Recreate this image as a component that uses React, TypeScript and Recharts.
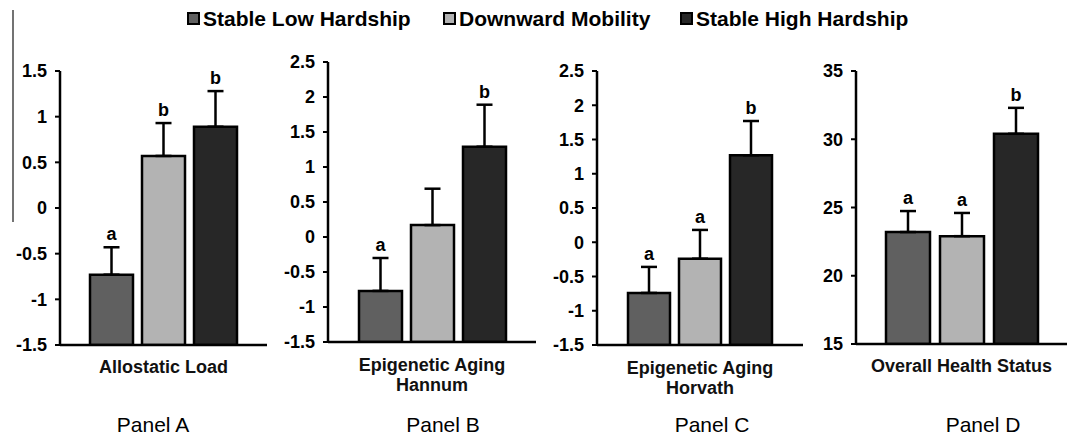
import { BarChart, Bar, XAxis, YAxis, ErrorBar, LabelList } from "recharts";

const groups = ["Stable Low Hardship", "Downward Mobility", "Stable High Hardship"];
const groupColors = ["#606060", "#b3b3b3", "#272727"];

const panelTitles = ["Panel A", "Panel B", "Panel C", "Panel D"];
const outcomes = [
  ["Allostatic Load"],
  ["Epigenetic Aging", "Hannum"],
  ["Epigenetic Aging", "Horvath"],
  ["Overall Health Status"],
];

// means and upper standard errors per group
const meansA = [-0.73, 0.57, 0.89];
const errsA = [0.3, 0.36, 0.39];
const meansB = [-0.77, 0.17, 1.29];
const errsB = [0.47, 0.52, 0.6];
const meansC = [-0.74, -0.24, 1.27];
const errsC = [0.38, 0.42, 0.5];
const meansD = [23.2, 22.9, 30.4];
const errsD = [1.54, 1.7, 1.9];

const lettersA = ["a", "b", "b"];
const lettersB = ["a", "", "b"];
const lettersC = ["a", "a", "b"];
const lettersD = ["a", "a", "b"];

const ticksA = [-1.5, -1, -0.5, 0, 0.5, 1, 1.5];
const ticksB = [-1.5, -1, -0.5, 0, 0.5, 1, 1.5, 2, 2.5];
const ticksC = [-1.5, -1, -0.5, 0, 0.5, 1, 1.5, 2, 2.5];
const ticksD = [15, 20, 25, 30, 35];

const FONT = "'Liberation Sans', Arial, sans-serif";

interface PanelProps {
  lines: string[];
  means: number[];
  errs: number[];
  letters: string[];
  ticks: number[];
  axisX: number;
  plotRight: number;
  topY: number;
  bottomY: number;
  barSize: number;
  barGap: number;
}

const Y_W = 60;
const X_H = 60;
const H = 438;

function Panel(p: PanelProps) {
  const yMin = p.ticks[0];
  const yMax = p.ticks[p.ticks.length - 1];
  const row: any = { outcome: p.lines.join(" ") };
  p.means.forEach((m, i) => {
    row["v" + i] = m;
    row["err" + i] = [0, p.errs[i]];
  });

  const letterContent = (i: number) => (props: any) => {
    const vb = props.viewBox && props.viewBox.width != null ? props.viewBox : props;
    const ppu = vb.height / (p.means[i] - yMin);
    const errTop = vb.y - p.errs[i] * ppu;
    return (
      <text
        x={vb.x + vb.width / 2}
        y={errTop - 7}
        textAnchor="middle"
        fontFamily={FONT}
        fontWeight="bold"
        fontSize={18}
        fill="#000"
      >
        {p.letters[i]}
      </text>
    );
  };

  const CatTick = (props: any) => {
    const { x } = props;
    const y0 = p.bottomY;
    const single = p.lines.length === 1;
    return (
      <g>
        {p.lines.map((t, k) => (
          <text
            key={k}
            x={x}
            y={y0 + (single ? 28 : 29 + k * 20)}
            textAnchor="middle"
            fontFamily={FONT}
            fontWeight="bold"
            fontSize={18}
            fill="#111"
          >
            {t}
          </text>
        ))}
      </g>
    );
  };

  const left = p.axisX - Y_W;
  const width = p.plotRight - left;
  return (
    <div style={{ position: "absolute", left, top: 0 }}>
      <BarChart
        width={width}
        height={H}
        data={[row]}
        margin={{ top: p.topY, right: 0, left: 0, bottom: H - p.bottomY - X_H }}
        barSize={p.barSize}
        barGap={p.barGap}
      >
        <XAxis
          dataKey="outcome"
          type="category"
          height={X_H}
          tickLine={false}
          axisLine={{ stroke: "#000", strokeWidth: 2.5 }}
          tick={<CatTick />}
          interval={0}
        />
        <YAxis
          type="number"
          width={Y_W}
          domain={[yMin, yMax]}
          ticks={p.ticks}
          allowDataOverflow
          interval={0}
          tickSize={5}
          tickMargin={8}
          axisLine={{ stroke: "#000", strokeWidth: 2.5 }}
          tickLine={{ stroke: "#000", strokeWidth: 2 }}
          tick={{ fill: "#000", fontFamily: FONT, fontWeight: "bold", fontSize: 18 }}
        />
        {groups.map((g, i) => (
          <Bar
            key={g}
            name={g}
            dataKey={(d: any) => [yMin, d["v" + i]]}
            fill={groupColors[i]}
            stroke="#000"
            strokeWidth={2.5}
            isAnimationActive={false}
          >
            <ErrorBar
              dataKey={"err" + i}
              direction="y"
              width={8}
              stroke="#000"
              strokeWidth={2.5}
              isAnimationActive={false}
            />
            <LabelList content={letterContent(i)} />
          </Bar>
        ))}
      </BarChart>
    </div>
  );
}

const legendX = [187, 443, 680];
const panelLabelX = [153, 443, 712, 983];

export default function App() {
  return (
    <div
      style={{
        position: "absolute",
        left: 0,
        top: 0,
        width: 1067,
        height: 438,
        background: "#fff",
        overflow: "hidden",
        fontFamily: FONT,
      }}
    >
      <Panel lines={outcomes[0]} means={meansA} errs={errsA} letters={lettersA} ticks={ticksA}
        axisX={60} plotRight={267} topY={71} bottomY={345} barSize={43} barGap={9} />
      <Panel lines={outcomes[1]} means={meansB} errs={errsB} letters={lettersB} ticks={ticksB}
        axisX={328} plotRight={536} topY={62} bottomY={342} barSize={43} barGap={9} />
      <Panel lines={outcomes[2]} means={meansC} errs={errsC} letters={lettersC} ticks={ticksC}
        axisX={597} plotRight={803} topY={71} bottomY={345} barSize={42} barGap={9} />
      <Panel lines={outcomes[3]} means={meansD} errs={errsD} letters={lettersD} ticks={ticksD}
        axisX={856} plotRight={1067} topY={71} bottomY={344} barSize={44} barGap={10} />

      <svg width={1067} height={438} style={{ position: "absolute", left: 0, top: 0, pointerEvents: "none" }}>
        <line x1={13} y1={10} x2={13} y2={222} stroke="#444" strokeWidth={1.5} />
        {panelTitles.map((t, i) => (
          <text key={t} x={panelLabelX[i]} y={432} textAnchor="middle" fontFamily={FONT} fontSize={21} fill="#000">
            {t}
          </text>
        ))}
        {groups.map((g, i) => (
          <g key={g}>
            <rect x={legendX[i] + 1} y={13} width={11} height={11} fill={groupColors[i]} stroke="#000" strokeWidth={2} />
            <text x={legendX[i] + 16} y={26} fontFamily={FONT} fontWeight="bold" fontSize={21} fill="#000">
              {g}
            </text>
          </g>
        ))}
      </svg>
    </div>
  );
}
